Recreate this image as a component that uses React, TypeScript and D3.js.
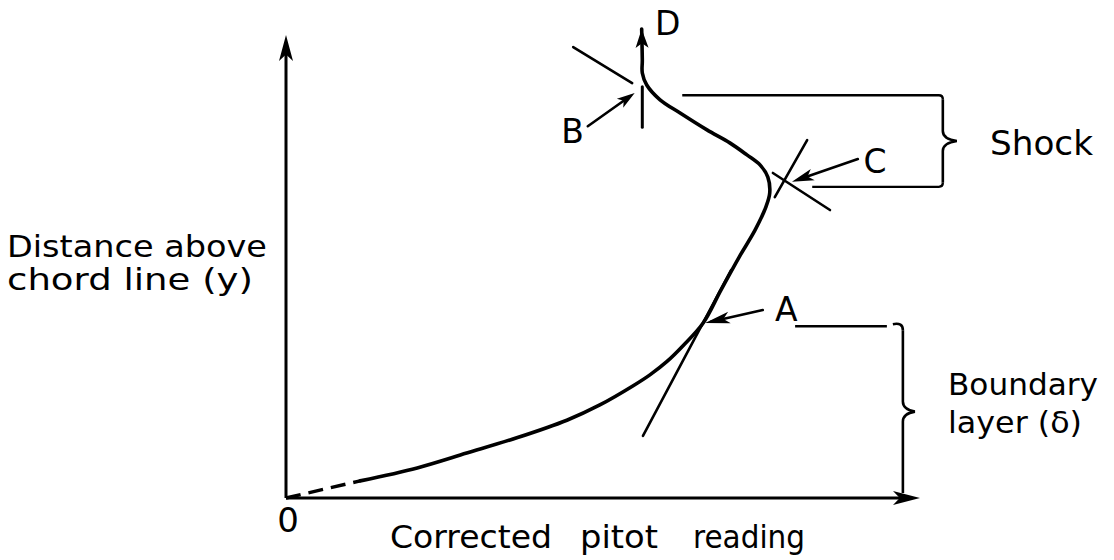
import React from "react";
import * as d3 from "d3";

// Pitot traverse: corrected pitot reading (x) against distance above chord line (y)
const readings = [11.7, 20.7, 28.5, 36.4, 44.3, 49.5, 54.7, 57.4, 60.1, 62.7, 65.8, 68.6, 71.5, 74.0, 75.7, 76.3, 76.0, 74.8, 72.7, 70.0, 66.4, 62.1, 59.0, 56.9, 56.2, 56.2, 56.1];
const heights = [3.7, 6.5, 9.7, 13.0, 16.8, 20.1, 24.2, 26.6, 29.5, 33.0, 37.8, 44.9, 52.1, 57.9, 62.9, 65.9, 69.3, 71.9, 74.1, 76.7, 79.5, 83.2, 86.0, 89.2, 91.8, 94.6, 101.3];

// extrapolation of the profile down to the origin (dashed)
const wallReadings = [0, 11.7];
const wallHeights = [0, 3.7];

// construction lines: [x1, y1, x2, y2]
const tangentA = [56.3, 13.4, 70.2, 49.2];
const tangentB = [45.3, 97.4, 54.6, 89.6];
const tickB = [56.2, 88.8, 56.2, 80.1];
const lineC1 = [82.2, 77.3, 77.1, 65.0];
const lineC2 = [76.8, 70.2, 85.8, 62.2];

// pointer arrows: [fromX, fromY, toX, toY]
const pointerA = [75.2, 40.6, 66.1, 37.8];
const pointerB = [47.6, 80.3, 55.0, 87.5];
const pointerC = [90.2, 73.2, 79.8, 68.3];

// point labels: [text, x, baseline y]
const pointLabels: [string, number, number][] = [
  ["A", 78.9, 38.2],
  ["B", 45.2, 76.7],
  ["C", 92.9, 70.2],
  ["D", 60.2, 100.0],
];

// extents of the two regions
const boundaryLayer = { leaderFrom: 80.3, braceX: 97.3, bottom: 0, top: 37.1 };
const shockLayer = { topFrom: 62.5, bottomFrom: 83.0, braceX: 103.6, bottom: 67.2, top: 87.0 };

const W = 1114;
const H = 560;
const FONT = "'DejaVu Sans', 'Noto Sans', sans-serif";

const x = d3.scaleLinear().domain([0, 100]).range([286, 920]);
const y = d3.scaleLinear().domain([0, 100]).range([498, 35]);

function arrowHead(fx: number, fy: number, tx: number, ty: number, len: number, half: number) {
  const dx = tx - fx;
  const dy = ty - fy;
  const d = Math.hypot(dx, dy);
  const ux = dx / d;
  const uy = dy / d;
  const bx = tx - ux * len;
  const by = ty - uy * len;
  const nx = bx + ux * len * 0.25;
  const ny = by + uy * len * 0.25;
  return `${tx},${ty} ${bx - uy * half},${by + ux * half} ${nx},${ny} ${bx + uy * half},${by - ux * half}`;
}

function Seg({ s, w = 2.6 }: { s: number[]; w?: number }) {
  return <line x1={x(s[0])} y1={y(s[1])} x2={x(s[2])} y2={y(s[3])} stroke="#000" strokeWidth={w} strokeLinecap="round" />;
}

function Pointer({ p, len = 22, half = 6 }: { p: number[]; len?: number; half?: number }) {
  const fx = x(p[0]), fy = y(p[1]), tx = x(p[2]), ty = y(p[3]);
  return (
    <g>
      <line x1={fx} y1={fy} x2={tx - (tx - fx) * 0.1} y2={ty - (ty - fy) * 0.1} stroke="#000" strokeWidth={2.6} strokeLinecap="round" />
      <polygon points={arrowHead(fx, fy, tx, ty, len, half)} fill="#000" />
    </g>
  );
}

// vertical brace with a small rightward point at its middle
function bracePath(bx: number, top: number, bottom: number, tip = 12) {
  const mid = (top + bottom) / 2;
  return `M${bx},${top} L${bx},${mid - 10} Q${bx},${mid - 2} ${bx + tip},${mid} Q${bx},${mid + 2} ${bx},${mid + 10} L${bx},${bottom}`;
}

export default function App() {
  const pts = readings.map((r, i) => [x(r), y(heights[i])] as [number, number]);
  const profile = d3.line().curve(d3.curveCatmullRom.alpha(0.5))(pts) || "";
  const wall = d3.line()(wallReadings.map((r, i) => [x(r), y(wallHeights[i])] as [number, number])) || "";

  const n = pts.length;
  const dHead = arrowHead(pts[n - 2][0], pts[n - 2][1], pts[n - 1][0], pts[n - 1][1], 19, 6.5);

  const bl = boundaryLayer;
  const sh = shockLayer;
  const blX = x(bl.braceX);
  const shX = x(sh.braceX);

  return (
    <svg width={W} height={H} style={{ position: "absolute", left: 0, top: 0, background: "#fff" }} fontFamily={FONT}>
      <rect width={W} height={H} fill="#fff" />

      {/* axes */}
      <line x1={x(0)} y1={y(0)} x2={x(0)} y2={y(100) + 10} stroke="#000" strokeWidth={3} />
      <polygon points={arrowHead(x(0), y(50), x(0), y(100), 26, 7)} fill="#000" />
      <line x1={x(0)} y1={y(0)} x2={x(100) - 10} y2={y(0)} stroke="#000" strokeWidth={3} />
      <polygon points={arrowHead(x(50), y(0), x(100), y(0), 27, 7)} fill="#000" />

      {/* profile */}
      <path d={wall} fill="none" stroke="#000" strokeWidth={3.4} strokeDasharray="15 8" />
      <path d={profile} fill="none" stroke="#000" strokeWidth={3.6} strokeLinecap="round" strokeLinejoin="round" />
      <polygon points={dHead} fill="#000" />

      {/* construction lines */}
      <Seg s={tangentA} />
      <Seg s={tangentB} />
      <Seg s={tickB} w={3} />
      <Seg s={lineC1} />
      <Seg s={lineC2} />

      {/* pointers */}
      <Pointer p={pointerA} len={25} half={6} />
      <Pointer p={pointerB} len={18} half={5.5} />
      <Pointer p={pointerC} len={22} half={6} />

      {/* boundary layer brace */}
      <line x1={x(bl.leaderFrom)} y1={y(bl.top)} x2={blX - 16} y2={y(bl.top)} stroke="#000" strokeWidth={2.4} />
      <path d={`M${blX - 10},${y(bl.top) - 2} Q${blX},${y(bl.top) - 4} ${blX},${y(bl.top) + 4}`} fill="none" stroke="#000" strokeWidth={2.6} />
      <path d={bracePath(blX, y(bl.top) + 4, y(bl.bottom) - 5)} fill="none" stroke="#000" strokeWidth={2.6} />

      {/* shock brace */}
      <path
        d={`M${x(sh.topFrom)},${y(sh.top)} L${shX - 4},${y(sh.top)} Q${shX},${y(sh.top)} ${shX},${y(sh.top) + 4}`}
        fill="none"
        stroke="#000"
        strokeWidth={2.4}
      />
      <path d={bracePath(shX, y(sh.top) + 4, y(sh.bottom) - 4, 14)} fill="none" stroke="#000" strokeWidth={2.6} />
      <path
        d={`M${x(sh.bottomFrom)},${y(sh.bottom)} L${shX - 4},${y(sh.bottom)} Q${shX},${y(sh.bottom)} ${shX},${y(sh.bottom) - 4}`}
        fill="none"
        stroke="#000"
        strokeWidth={2.4}
      />

      {/* point labels */}
      {pointLabels.map(([t, lx, ly]) => (
        <text key={t} x={x(lx)} y={y(ly)} fontSize={33} textAnchor="middle" fill="#000">
          {t}
        </text>
      ))}

      {/* region labels */}
      <text x={990} y={155} fontSize={34} textLength={103} lengthAdjust="spacingAndGlyphs" fill="#000">
        Shock
      </text>
      <text x={948} y={395} fontSize={31} textLength={150} lengthAdjust="spacingAndGlyphs" fill="#000">
        Boundary
      </text>
      <text x={948} y={433} fontSize={31} textLength={134} lengthAdjust="spacingAndGlyphs" fill="#000">
        layer (δ)
      </text>

      {/* axis titles */}
      <text x={x(0) + 2} y={y(0) + 34} fontSize={34} textAnchor="middle" fill="#000">
        0
      </text>
      <text y={548} fontSize={32} fill="#000">
        <tspan x={390} textLength={162} lengthAdjust="spacingAndGlyphs">Corrected</tspan>
        <tspan x={580} textLength={78} lengthAdjust="spacingAndGlyphs">pitot</tspan>
        <tspan x={693} textLength={112} lengthAdjust="spacingAndGlyphs">reading</tspan>
      </text>
      <text x={7} y={257} fontSize={30} textLength={260} lengthAdjust="spacingAndGlyphs" fill="#000">
        Distance above
      </text>
      <text x={7} y={290} fontSize={30} textLength={246} lengthAdjust="spacingAndGlyphs" fill="#000">
        chord line (y)
      </text>
    </svg>
  );
}
